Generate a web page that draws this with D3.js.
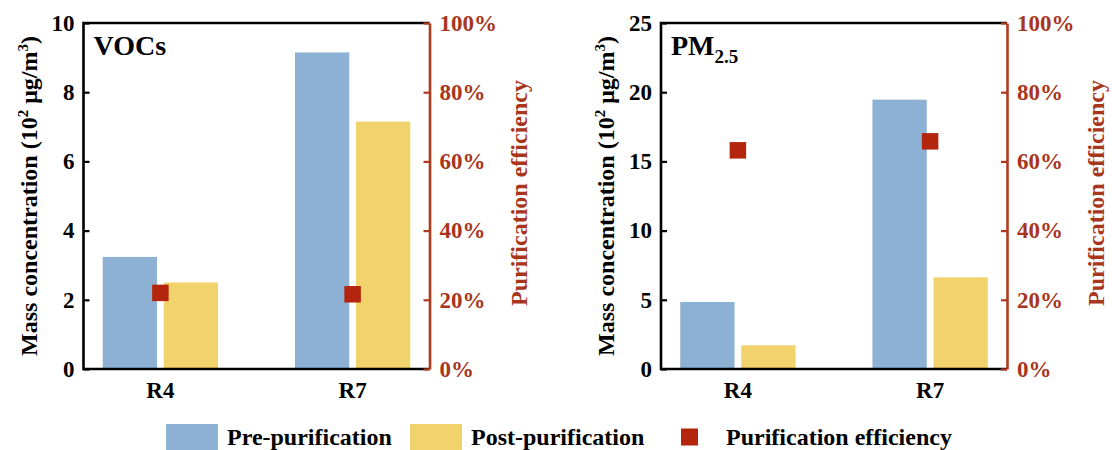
<!DOCTYPE html>
<html>
<head>
<meta charset="utf-8">
<script src="https://cdn.jsdelivr.net/npm/d3@7"></script>
<style>
  html, body { margin: 0; padding: 0; background: #fff; }
  svg { display: block; font-family: "Liberation Serif", "Times New Roman", serif; font-weight: bold; }
</style>
</head>
<body>
<svg id="chart" width="1112" height="450"></svg>
<script>
// Sampling sites
const categories = ["R4", "R7"];
const seriesNames = ["Pre-purification", "Post-purification", "Purification efficiency"];

// VOCs mass concentration (10^2 µg/m3) and purification efficiency
const vocPre = [3.24, 9.15];
const vocPost = [2.50, 7.15];
const vocEff = [0.220, 0.216];

// PM2.5 mass concentration (10^2 µg/m3) and purification efficiency
const pmPre = [4.84, 19.46];
const pmPost = [1.71, 6.62];
const pmEff = [0.632, 0.658];

// Axis ticks
const vocTicks = [0, 2, 4, 6, 8, 10];
const pmTicks = [0, 5, 10, 15, 20, 25];
const effTicks = [0, 0.2, 0.4, 0.6, 0.8, 1.0];

const colors = { pre: "#8cb1d4", post: "#f1d26b", eff: "#b3250c", axisRed: "#b0391e", textRed: "#a8361c" };

const svg = d3.select("#chart");
svg.append("rect").attr("width", 1112).attr("height", 450).attr("fill", "#fff");

const plotW = 346, plotH = 346, plotTop = 23;

function drawPanel(left, pre, post, eff, ticks, title, titleSub) {
  const g = svg.append("g").attr("transform", `translate(${left},${plotTop})`);
  const yMax = ticks[ticks.length - 1];
  const y = d3.scaleLinear().domain([0, yMax]).range([plotH, 0]);
  const yR = d3.scaleLinear().domain([0, 1]).range([plotH, 0]);
  const x0 = d3.scaleBand().domain(categories).range([0, plotW]).paddingInner(0.4).paddingOuter(0.1);
  const x1 = d3.scaleBand().domain(["pre", "post"]).range([0, x0.bandwidth()]).paddingInner(0.11);

  const rows = categories.map((c, i) => ({ cat: c, pre: pre[i], post: post[i], eff: eff[i] }));

  // bars
  const groups = g.selectAll("g.grp").data(rows).join("g")
    .attr("class", "grp")
    .attr("transform", d => `translate(${x0(d.cat)},0)`);
  groups.selectAll("rect").data(d => [{ k: "pre", v: d.pre }, { k: "post", v: d.post }]).join("rect")
    .attr("x", d => x1(d.k))
    .attr("width", x1.bandwidth())
    .attr("y", d => y(d.v))
    .attr("height", d => plotH - y(d.v))
    .attr("fill", d => colors[d.k]);

  // frame: left, top, bottom in black
  const frame = g.append("path")
    .attr("d", `M${plotW},0H0V${plotH}H${plotW}`)
    .attr("fill", "none").attr("stroke", "#000").attr("stroke-width", 2.6);

  // left axis (inward ticks)
  const ya = g.append("g").call(d3.axisLeft(y).tickValues(ticks).tickSizeInner(-6).tickSizeOuter(0).tickPadding(9).tickFormat(d3.format("d")));
  ya.select(".domain").remove();
  ya.selectAll("line").attr("stroke", "#000").attr("stroke-width", 2.2);
  ya.selectAll("text").attr("font-size", 23).attr("font-family", "Liberation Serif").attr("font-weight", "bold").attr("fill", "#000");

  // bottom category labels
  const xa = g.append("g").attr("transform", `translate(0,${plotH})`)
    .call(d3.axisBottom(x0).tickSize(0).tickPadding(13));
  xa.select(".domain").remove();
  xa.selectAll("text").attr("font-size", 23).attr("font-family", "Liberation Serif").attr("font-weight", "bold").attr("fill", "#000");

  // right axis (efficiency), red
  const ra = g.append("g").attr("transform", `translate(${plotW},0)`)
    .call(d3.axisRight(yR).tickValues(effTicks).tickSizeInner(-6).tickSizeOuter(0).tickPadding(10).tickFormat(d3.format(".0%")));
  ra.select(".domain").attr("stroke", colors.axisRed).attr("stroke-width", 2.6);
  ra.selectAll("line").attr("stroke", colors.axisRed).attr("stroke-width", 2.2);
  ra.selectAll("text").attr("font-size", 23).attr("font-family", "Liberation Serif").attr("font-weight", "bold").attr("fill", colors.textRed);

  // efficiency markers
  const ms = 16.5;
  g.selectAll("rect.eff").data(rows).join("rect")
    .attr("class", "eff")
    .attr("x", d => x0(d.cat) + x0.bandwidth() / 2 - ms / 2)
    .attr("y", d => yR(d.eff) - ms / 2)
    .attr("width", ms).attr("height", ms)
    .attr("fill", colors.eff);

  // panel title
  const t = g.append("text").attr("x", 10).attr("y", 32).attr("font-size", 28).attr("fill", "#000").text(title);
  if (titleSub) {
    t.append("tspan").attr("font-size", 19).attr("dy", 8).text(titleSub);
  }

  // left axis title
  const lt = g.append("text")
    .attr("transform", `translate(-55,${plotH / 2}) rotate(-90)`)
    .attr("text-anchor", "middle").attr("dy", "0.35em")
    .attr("font-size", 24).attr("fill", "#000");
  lt.append("tspan").text("Mass concentration (10");
  lt.append("tspan").attr("font-size", 15).attr("dy", -9).text("2");
  lt.append("tspan").attr("dy", 9).text(" \u03bcg/m");
  lt.append("tspan").attr("font-size", 15).attr("dy", -9).text("3");
  lt.append("tspan").attr("dy", 9).text(")");

  // right axis title
  g.append("text")
    .attr("transform", `translate(${plotW + 89},${plotH / 2 - 3}) rotate(-90)`)
    .attr("text-anchor", "middle").attr("dy", "0.35em")
    .attr("font-size", 24).attr("fill", colors.textRed)
    .text("Purification efficiency");
}

drawPanel(83.5, vocPre, vocPost, vocEff, vocTicks, "VOCs", null);
drawPanel(661, pmPre, pmPost, pmEff, pmTicks, "PM", "2.5");

// legend
const legend = svg.append("g").attr("font-size", 24).attr("fill", "#000");
const legendItems = [
  { name: seriesNames[0], type: "box", color: colors.pre, x: 166 },
  { name: seriesNames[1], type: "box", color: colors.post, x: 410 },
  { name: seriesNames[2], type: "mark", color: colors.eff, x: 681 }
];
legendItems.forEach(it => {
  if (it.type === "box") {
    legend.append("rect").attr("x", it.x).attr("y", 424).attr("width", 52).attr("height", 26).attr("fill", it.color);
    legend.append("text").attr("x", it.x + 61).attr("y", 445).text(it.name);
  } else {
    legend.append("rect").attr("x", it.x).attr("y", 428.5).attr("width", 17).attr("height", 17).attr("fill", it.color);
    legend.append("text").attr("x", it.x + 45).attr("y", 445).text(it.name);
  }
});
</script>
</body>
</html>
